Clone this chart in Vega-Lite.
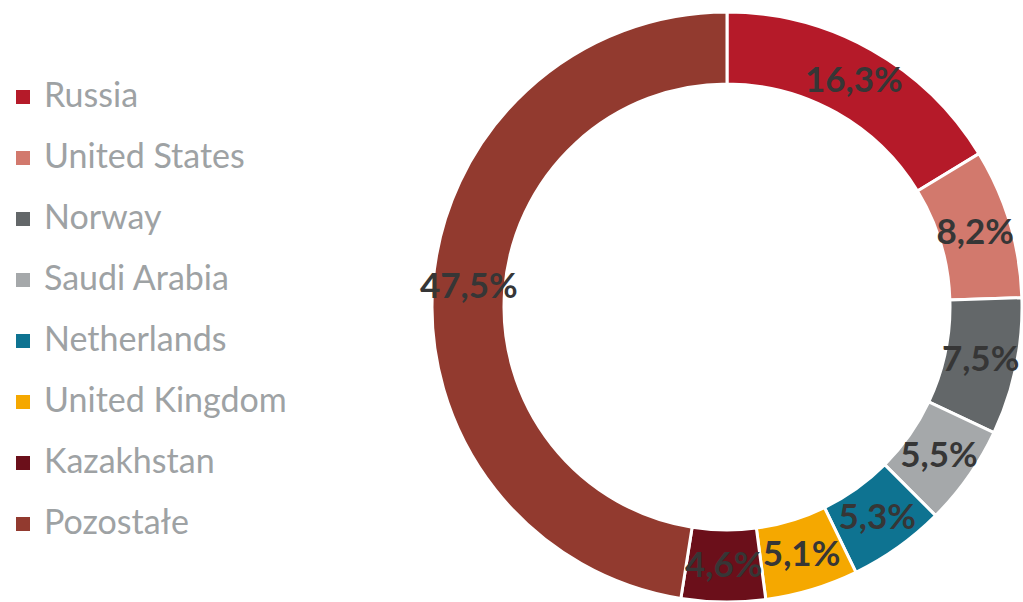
{
  "$schema": "https://vega.github.io/schema/vega-lite/v6.json",
  "autosize": {"type": "none"},
  "padding": {"left": 432, "top": 12, "right": 1, "bottom": 0},
  "width": 590,
  "height": 590,
  "background": "white",
  "view": {"stroke": null},
  "data": {
    "values": [
      {"country": "Russia", "share": 16.3, "label": "16,3%", "idx": 1},
      {"country": "United States", "share": 8.2, "label": "8,2%", "idx": 2},
      {"country": "Norway", "share": 7.5, "label": "7,5%", "idx": 3},
      {"country": "Saudi Arabia", "share": 5.5, "label": "5,5%", "idx": 4},
      {"country": "Netherlands", "share": 5.3, "label": "5,3%", "idx": 5},
      {"country": "United Kingdom", "share": 5.1, "label": "5,1%", "idx": 6},
      {"country": "Kazakhstan", "share": 4.6, "label": "4,6%", "idx": 7},
      {"country": "Pozostałe", "share": 47.5, "label": "47,5%", "idx": 8}
    ]
  },
  "encoding": {
    "theta": {"field": "share", "type": "quantitative", "stack": true},
    "order": {"field": "idx", "type": "quantitative", "sort": "ascending"},
    "color": {
      "field": "country",
      "type": "nominal",
      "sort": null,
      "scale": {
        "domain": ["Russia", "United States", "Norway", "Saudi Arabia", "Netherlands", "United Kingdom", "Kazakhstan", "Pozostałe"],
        "range": ["#B51A29", "#D2796D", "#636769", "#A5A8AA", "#0E7391", "#F5A800", "#6B0F1A", "#923A2F"]
      },
      "legend": {
        "title": null,
        "orient": "none",
        "legendX": -426,
        "legendY": 68,
        "padding": 0,
        "symbolType": "square",
        "symbolSize": 196,
        "symbolStrokeWidth": 0,
        "symbolOpacity": 1,
        "labelFont": "Lato",
        "labelFontSize": 34,
        "labelColor": "#9EA2A4",
        "labelOffset": 4,
        "rowPadding": 27,
        "labelLimit": 400
      }
    }
  },
  "layer": [
    {
      "mark": {"type": "arc", "outerRadius": 295, "innerRadius": 223, "stroke": "white", "strokeWidth": 3}
    },
    {
      "mark": {"type": "text", "radius": 259, "font": "Lato", "fontWeight": "bold", "fontSize": 35, "fill": "#363636"},
      "encoding": {
        "text": {"field": "label", "type": "nominal"},
        "color": {"field": "country", "type": "nominal", "sort": null, "legend": null, "scale": {"domain": ["Russia", "United States", "Norway", "Saudi Arabia", "Netherlands", "United Kingdom", "Kazakhstan", "Pozostałe"], "range": ["#B51A29", "#D2796D", "#636769", "#A5A8AA", "#0E7391", "#F5A800", "#6B0F1A", "#923A2F"]}}
      }
    }
  ]
}
